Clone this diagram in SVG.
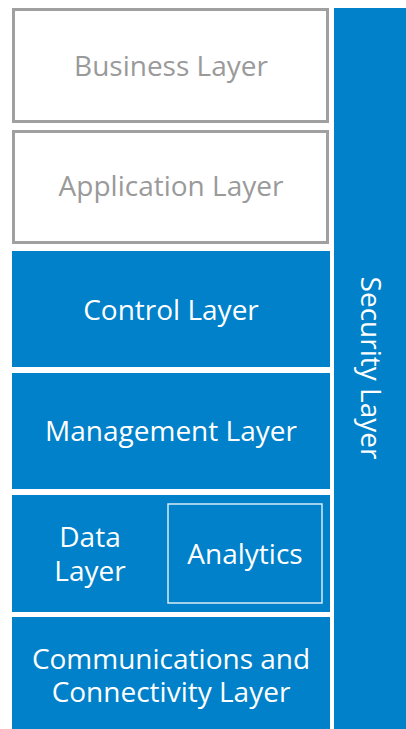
<svg xmlns="http://www.w3.org/2000/svg" width="406" height="729" viewBox="0 0 406 729">
<style>
.w{fill:#fff;stroke:#a0a0a0;stroke-width:3}
.b{fill:#0081c9}
.t{font-family:"Open Sans","Liberation Sans",sans-serif;font-size:28px;text-anchor:middle;dominant-baseline:central}
.g{fill:#9a9a9a}
.l{fill:#fff}
</style>
<rect width="406" height="729" fill="#fff"/>
<g id="security"><rect class="b" x="334" y="8" width="72" height="721"/>
<text class="t l" transform="translate(372,368) rotate(90)">Security Layer</text></g>
<g id="business"><rect class="w" x="13.5" y="9.5" width="314" height="112"/>
<text class="t g" x="171" y="65">Business Layer</text></g>
<g id="application"><rect class="w" x="13.5" y="131.5" width="314" height="111"/>
<text class="t g" x="171" y="185">Application Layer</text></g>
<g id="control"><rect class="b" x="12" y="251" width="318" height="116"/>
<text class="t l" x="171" y="309">Control Layer</text></g>
<g id="management"><rect class="b" x="12" y="373" width="318" height="116"/>
<text class="t l" x="171" y="430">Management Layer</text></g>
<g id="data"><rect class="b" x="12" y="495" width="318" height="117"/>
<text class="t l" x="90" y="536">Data</text><text class="t l" x="90" y="570">Layer</text></g>
<g id="analytics"><rect x="168" y="504" width="154" height="99" fill="none" stroke="#d8ecf7" stroke-width="1.5"/>
<text class="t l" x="245" y="553">Analytics</text></g>
<g id="comms"><rect class="b" x="12" y="617" width="318" height="112"/>
<text class="t l" x="171" y="658">Communications and</text><text class="t l" x="171" y="691">Connectivity Layer</text></g>
<g id="connectors"/>
</svg>
